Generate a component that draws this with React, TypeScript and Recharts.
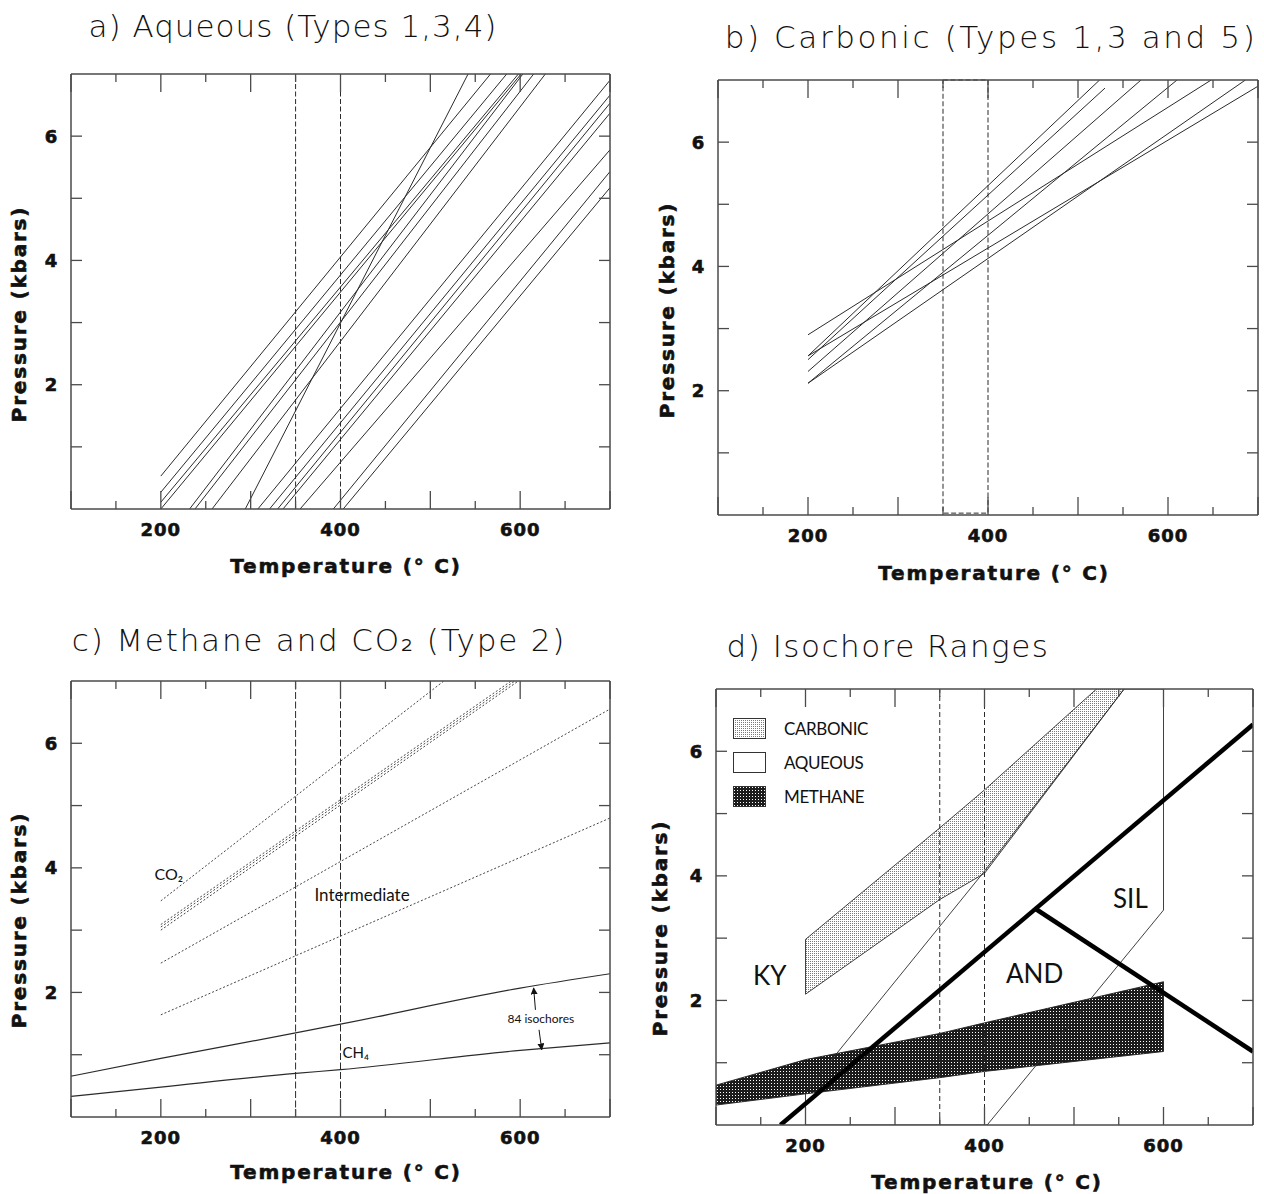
import React from "react";
import {
  ComposedChart,
  Line,
  Area,
  XAxis,
  YAxis,
  ReferenceLine,
  ReferenceArea,
  ReferenceDot,
  Legend,
} from "recharts";

// axes (shared by all four panels)
const tempTicks = [100, 150, 200, 250, 300, 350, 400, 450, 500, 550, 600, 650, 700];
const tempLabels = [200, 400, 600];
const pressTicks = [0, 1, 2, 3, 4, 5, 6, 7];
const pressLabels = [2, 4, 6];
const bracketTemps = [350, 400];

// a) aqueous isochores: [T start, P start, T end, P end]
const aqueousIsochores = [
  [200, 0.53, 567, 7],
  [200, 0.27, 585, 7],
  [200, 0.11, 598, 7],
  [200, 0, 601, 7],
  [232, 0, 603, 7],
  [238, 0, 615, 7],
  [257, 0, 628, 7],
  [294, 0, 542, 7],
  [308, 0, 700, 6.9],
  [321, 0, 700, 6.66],
  [330, 0, 700, 6.53],
  [336, 0, 700, 6.37],
  [355, 0, 700, 5.78],
  [392, 0, 700, 5.43],
  [403, 0, 700, 5.17],
];

// b) carbonic isochores
const carbonicIsochores = [
  [200, 2.9, 648, 7],
  [200, 2.56, 524, 7],
  [200, 2.5, 530, 6.87],
  [200, 2.56, 700, 6.9],
  [200, 2.31, 570, 7],
  [200, 2.12, 610, 7],
  [200, 2.12, 686, 7],
];

// c) CO2 / intermediate isochores (dotted)
const co2Isochores = [
  [200, 3.47, 515, 7],
  [200, 3.09, 590, 7],
  [200, 3.05, 594, 7],
  [200, 3.0, 598, 7],
  [200, 2.47, 700, 6.55],
  [200, 1.64, 700, 4.8],
];
// c) CH4 isochore envelope
const ch4Temps = [100, 200, 350, 400, 600, 700];
const ch4Upper = [0.655, 0.94, 1.35, 1.49, 2.07, 2.3];
const ch4Lower = [0.33, 0.48, 0.7, 0.76, 1.07, 1.19];

// d) isochore ranges
const carbRangeTemps = [200, 350, 400, 556];
const carbRangeLow = [2.1, 3.62, 4.04, 7];
const carbRangeHigh = [2.98, 4.77, 5.38, 7.4];
const aqEnvTemps = [200, 200, 398, 556, 600, 600, 403, 200];
const aqEnvPress = [0, 0.53, 4.04, 7, 7, 3.45, 0, 0];
const methRangeTemps = [100, 200, 350, 400, 600];
const methRangeLow = [0.32, 0.5, 0.76, 0.86, 1.18];
const methRangeHigh = [0.64, 1.05, 1.47, 1.64, 2.3];
// Al2SiO5 phase boundaries
const kySilBoundary = [172, 0, 700, 6.43];
const andSilBoundary = [456, 3.48, 700, 1.18];

const fieldLabels = [
  { text: "KY", t: 160, p: 2.39 },
  { text: "AND", t: 456, p: 2.42 },
  { text: "SIL", t: 563, p: 3.64 },
];
const ch4Labels = [
  { text: "CO₂", t: 209, p: 3.89, size: 16 },
  { text: "Intermediate", t: 424, p: 3.57, size: 17 },
  { text: "CH₄", t: 417, p: 1.03, size: 15 },
  { text: "84 isochores", t: 623, p: 1.57, size: 12 },
];
const isochoreArrows = [
  [617, 1.72, 615, 2.07],
  [621, 1.4, 624, 1.08],
];
const legendItems = [
  { name: "CARBONIC", fill: "url(#carbDots)" },
  { name: "AQUEOUS", fill: "#fff" },
  { name: "METHANE", fill: "url(#methCheck)" },
];

const INK = "#2b2b2b";
const FRAME = "#4a4a4a";
const BOLD_FONT = "'DejaVu Sans', 'Liberation Sans', sans-serif";
const THIN_FONT = "Lato, 'Open Sans', 'DejaVu Sans', sans-serif";

const seg = (s: number[]) => [
  { t: s[0], p: s[1] },
  { t: s[2], p: s[3] },
];
const zipPts = (ts: number[], ps: number[]) => ts.map((t, i) => ({ t, p: ps[i] }));
const zipBand = (ts: number[], lo: number[], hi: number[]) =>
  ts.map((t, i) => ({ t, band: [lo[i], hi[i]] }));
const outline = (ts: number[], lo: number[], hi: number[]) => {
  const top = ts.map((t, i) => ({ t, p: hi[i] }));
  const bottom = ts.map((t, i) => ({ t, p: lo[i] })).reverse();
  return [...top, ...bottom, top[0]];
};

const tickText = {
  fontFamily: BOLD_FONT,
  fontWeight: 700,
  fontSize: 18,
  fill: "#111",
  stroke: "#111",
  strokeWidth: 0.6,
};

const xTick = (side: "bottom" | "top") => (props: any) => {
  const { x, y, payload } = props;
  const v = payload.value;
  const len = v % 100 === 0 ? 18 : 8;
  const dir = side === "bottom" ? -1 : 1;
  return (
    <g>
      <line x1={x} y1={y} x2={x} y2={y + dir * len} stroke={FRAME} strokeWidth={1.3} />
      {side === "bottom" && tempLabels.includes(v) && (
        <text x={x} y={y + 20} textAnchor="middle" dominantBaseline="central" letterSpacing={1} {...tickText}>
          {v}
        </text>
      )}
    </g>
  );
};

const yTick = (side: "left" | "right") => (props: any) => {
  const { x, y, payload } = props;
  const v = payload.value;
  if (v === 0 || v === 7) return <g />;
  const dir = side === "left" ? 1 : -1;
  return (
    <g>
      <line x1={x} y1={y} x2={x + dir * 11} y2={y} stroke={FRAME} strokeWidth={1.3} />
      {side === "left" && pressLabels.includes(v) && (
        <text x={x - 20} y={y} textAnchor="middle" dominantBaseline="central" {...tickText}>
          {v}
        </text>
      )}
    </g>
  );
};

const frameLine = { stroke: FRAME, strokeWidth: 1.5 };

function Panel({ box, plot, children }: any) {
  // axes take 1px each, the rest is margin
  const margin = {
    top: plot.top - box.top - 1,
    left: plot.left - box.left - 1,
    right: box.left + box.width - plot.right - 1,
    bottom: box.top + box.height - plot.bottom - 1,
  };
  const common = {
    type: "number" as const,
    interval: 0 as const,
    allowDataOverflow: true,
    tickSize: 0,
    tickMargin: 0,
    tickLine: false,
    axisLine: frameLine,
  };
  return (
    <div style={{ position: "absolute", left: box.left, top: box.top }}>
      <ComposedChart width={box.width} height={box.height} margin={margin}>
        <XAxis {...common} dataKey="t" domain={[100, 700]} ticks={tempTicks} height={1} tick={xTick("bottom")} />
        <XAxis
          {...common}
          xAxisId="top"
          orientation="top"
          dataKey="t"
          domain={[100, 700]}
          ticks={tempTicks}
          height={1}
          tick={xTick("top")}
        />
        <YAxis {...common} domain={[0, 7]} ticks={pressTicks} width={1} tick={yTick("left")} />
        <YAxis
          {...common}
          yAxisId="right"
          orientation="right"
          domain={[0, 7]}
          ticks={pressTicks}
          width={1}
          tick={yTick("right")}
        />
        {children}
      </ComposedChart>
    </div>
  );
}

const segLine = (s: number[], key: string, extra: any = {}) => (
  <Line
    key={key}
    data={seg(s)}
    dataKey="p"
    type="linear"
    stroke={INK}
    strokeWidth={1}
    dot={false}
    activeDot={false}
    legendType="none"
    isAnimationActive={false}
    {...extra}
  />
);

const Txt = ({ x, y, size, rotate, weight, family, spacing, heavy, children }: any) => (
  <div
    style={{
      position: "absolute",
      left: x,
      top: y,
      transform: `translate(-50%, -50%)${rotate ? ` rotate(${rotate}deg)` : ""}`,
      fontSize: size,
      fontFamily: family,
      fontWeight: weight,
      letterSpacing: spacing,
      whiteSpace: "nowrap",
      lineHeight: 1,
      color: "#111",
      WebkitTextStroke: heavy ? "0.6px #111" : undefined,
    }}
  >
    {children}
  </div>
);

const renderLegend = () => (
  <div style={{ display: "flex", flexDirection: "column", gap: 14 }}>
    {legendItems.map((it) => (
      <div key={it.name} style={{ display: "flex", alignItems: "center", height: 20 }}>
        <svg width={33} height={21} style={{ display: "block" }}>
          <rect x={0.5} y={0.5} width={32} height={20} fill={it.fill} stroke="#333" strokeWidth={1} />
        </svg>
        <span
          style={{
            marginLeft: 18,
            fontFamily: THIN_FONT,
            fontSize: 17,
            letterSpacing: -0.4,
            color: "#111",
          }}
        >
          {it.name}
        </span>
      </div>
    ))}
  </div>
);

const axisTitle = { size: 20, weight: 700, family: BOLD_FONT, spacing: 1.8, heavy: true };
const panelTitle = { size: 31, weight: 200, family: "'DejaVu Sans', Lato, sans-serif" };

export default function App() {
  return (
    <div style={{ position: "absolute", left: 0, top: 0, width: 1264, height: 1194, background: "#fff", overflow: "hidden" }}>
      <svg width={0} height={0} style={{ position: "absolute" }}>
        <defs>
          <pattern id="carbDots" width={2} height={2} patternUnits="userSpaceOnUse">
            <rect width={2} height={2} fill="#fff" />
            <rect width={1} height={1} fill="#7a7a7a" />
          </pattern>
          <pattern id="methCheck" width={3} height={3} patternUnits="userSpaceOnUse">
            <rect width={3} height={3} fill="#1c1c1c" />
            <rect x={1} y={1} width={1} height={1} fill="#fff" />
          </pattern>
          <marker id="arrowHead" viewBox="0 0 10 10" refX={9} refY={5} markerWidth={7} markerHeight={7} orient="auto">
            <path d="M0,0 L10,5 L0,10 z" fill="#111" />
          </marker>
        </defs>
      </svg>

      {/* a) Aqueous */}
      <Panel box={{ left: 0, top: 60, width: 632, height: 500 }} plot={{ left: 71, top: 74, right: 610, bottom: 509 }}>
        {bracketTemps.map((t) => (
          <ReferenceLine key={t} x={t} stroke={INK} strokeDasharray="5 2.5" strokeWidth={1} />
        ))}
        {aqueousIsochores.map((s, i) => segLine(s, `a${i}`))}
      </Panel>

      {/* b) Carbonic */}
      <Panel box={{ left: 632, top: 60, width: 632, height: 500 }} plot={{ left: 718, top: 80, right: 1258, bottom: 515 }}>
        <ReferenceArea
          x1={bracketTemps[0]}
          x2={bracketTemps[1]}
          y1={0.03}
          y2={7}
          fill="none"
          stroke={INK}
          strokeDasharray="5 2.5"
          strokeWidth={1}
        />
        {carbonicIsochores.map((s, i) => segLine(s, `b${i}`))}
      </Panel>

      {/* c) Methane and CO2 */}
      <Panel box={{ left: 0, top: 660, width: 632, height: 500 }} plot={{ left: 71, top: 681, right: 610, bottom: 1117 }}>
        {bracketTemps.map((t) => (
          <ReferenceLine key={t} x={t} stroke={INK} strokeDasharray="7 2.5" strokeWidth={1} />
        ))}
        {co2Isochores.map((s, i) => segLine(s, `c${i}`, { strokeDasharray: "2 2", stroke: "#444" }))}
        <Line data={zipPts(ch4Temps, ch4Upper)} dataKey="p" type="monotone" stroke={INK} strokeWidth={1.2} dot={false} activeDot={false} legendType="none" isAnimationActive={false} />
        <Line data={zipPts(ch4Temps, ch4Lower)} dataKey="p" type="monotone" stroke={INK} strokeWidth={1.2} dot={false} activeDot={false} legendType="none" isAnimationActive={false} />
        {isochoreArrows.map((s, i) => (
          <ReferenceLine
            key={`ar${i}`}
            segment={seg(s).map((d) => ({ x: d.t, y: d.p }))}
            stroke="#111"
            strokeWidth={1}
            markerEnd="url(#arrowHead)"
          />
        ))}
        {ch4Labels.map((l) => (
          <ReferenceDot
            key={l.text}
            x={l.t}
            y={l.p}
            r={0}
            fill="none"
            stroke="none"
            label={{ value: l.text, position: "center", fill: "#111", fontSize: l.size, fontFamily: THIN_FONT }}
          />
        ))}
      </Panel>

      {/* d) Isochore ranges */}
      <Panel box={{ left: 632, top: 665, width: 632, height: 520 }} plot={{ left: 716, top: 689, right: 1253, bottom: 1125 }}>
        <Line data={zipPts(aqEnvTemps, aqEnvPress)} dataKey="p" type="linear" stroke={INK} strokeWidth={0.9} dot={false} activeDot={false} legendType="none" isAnimationActive={false} />
        <Area data={zipBand(carbRangeTemps, carbRangeLow, carbRangeHigh)} dataKey="band" type="linear" fill="url(#carbDots)" fillOpacity={1} stroke="none" legendType="none" isAnimationActive={false} />
        <Line data={outline(carbRangeTemps, carbRangeLow, carbRangeHigh)} dataKey="p" type="linear" stroke={INK} strokeWidth={0.9} dot={false} activeDot={false} legendType="none" isAnimationActive={false} />
        <Area data={zipBand(methRangeTemps, methRangeLow, methRangeHigh)} dataKey="band" type="linear" fill="url(#methCheck)" fillOpacity={1} stroke="none" legendType="none" isAnimationActive={false} />
        <Line data={outline(methRangeTemps, methRangeLow, methRangeHigh)} dataKey="p" type="linear" stroke="#222" strokeWidth={0.9} dot={false} activeDot={false} legendType="none" isAnimationActive={false} />
        {bracketTemps.map((t) => (
          <ReferenceLine key={t} x={t} stroke={INK} strokeDasharray="5 3" strokeWidth={1} />
        ))}
        {segLine(kySilBoundary, "kysil", { stroke: "#000", strokeWidth: 4.5 })}
        {segLine(andSilBoundary, "andsil", { stroke: "#000", strokeWidth: 4.5 })}
        {fieldLabels.map((l) => (
          <ReferenceDot
            key={l.text}
            x={l.t}
            y={l.p}
            r={0}
            fill="none"
            stroke="none"
            label={{ value: l.text, position: "center", fill: "#111", fontSize: 26, fontFamily: THIN_FONT }}
          />
        ))}
        <Legend
          layout="horizontal"
          verticalAlign="middle"
          align="center"
          content={renderLegend}
          wrapperStyle={{ position: "absolute", left: 101, top: 53, width: 220, height: 110 }}
        />
      </Panel>

      {/* titles and axis names */}
      <Txt x={293} y={26} spacing={1} {...panelTitle}>a) Aqueous (Types 1,3,4)</Txt>
      <Txt x={991} y={37} spacing={2.6} {...panelTitle}>b) Carbonic (Types 1,3 and 5)</Txt>
      <Txt x={319} y={640} spacing={1.8} {...panelTitle}>c) Methane and CO₂ (Type 2)</Txt>
      <Txt x={888} y={646} spacing={1.5} {...panelTitle}>d) Isochore Ranges</Txt>

      <Txt x={19} y={314} rotate={-90} {...axisTitle}>Pressure (kbars)</Txt>
      <Txt x={667} y={310} rotate={-90} {...axisTitle}>Pressure (kbars)</Txt>
      <Txt x={19} y={920} rotate={-90} {...axisTitle}>Pressure (kbars)</Txt>
      <Txt x={660} y={928} rotate={-90} {...axisTitle}>Pressure (kbars)</Txt>

      <Txt x={346} y={566} {...axisTitle}>Temperature (° C)</Txt>
      <Txt x={994} y={573} {...axisTitle}>Temperature (° C)</Txt>
      <Txt x={346} y={1172} {...axisTitle}>Temperature (° C)</Txt>
      <Txt x={987} y={1182} {...axisTitle}>Temperature (° C)</Txt>
    </div>
  );
}
